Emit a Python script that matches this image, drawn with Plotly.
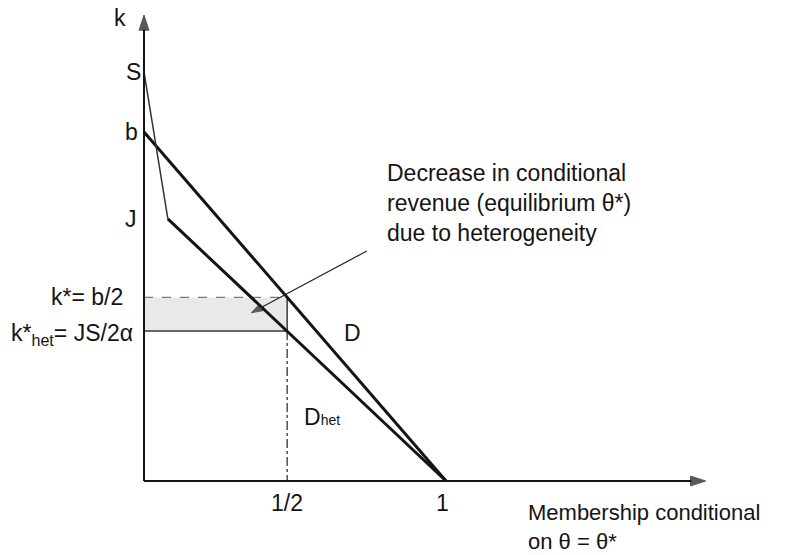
import plotly.graph_objects as go

# membership (x, 1 = full) and k (y, b = 1)
theta_d = [0.0, 1.0]
k_d = [1.0, 0.0]

theta_s = [0.0, 0.079]          # steep thin part from S down to J
k_s = [1.172, 0.751]
theta_het = [0.079, 1.0]        # D_het from the kink down to 1
k_het = [0.751, 0.0]

theta_star = 0.474
k_star = 0.526
k_het_star = 0.43

x_ticks = [theta_star, 1.0]
x_tick_labels = ["1/2", "1"]

ink = "#141414"
font = "Liberation Sans, Arial, sans-serif"
fs = 23

fig = go.Figure()

# shaded revenue loss
fig.add_trace(go.Scatter(
    x=[0, theta_star, theta_star, 0, 0],
    y=[k_het_star, k_het_star, k_star, k_star, k_het_star],
    mode="lines", fill="toself", fillcolor="#e9e9e9",
    line=dict(width=0), hoverinfo="skip",
))
# rectangle edges
fig.add_trace(go.Scatter(x=[0, theta_star], y=[k_star, k_star], mode="lines",
                         line=dict(color="#7a7a7a", width=1.3, dash="dash")))
fig.add_trace(go.Scatter(x=[0, theta_star, theta_star], y=[k_het_star, k_het_star, k_star],
                         mode="lines", line=dict(color="#3a3a3a", width=1.5)))
# dash-dot drop to 1/2
fig.add_trace(go.Scatter(x=[theta_star, theta_star], y=[k_het_star, 0], mode="lines",
                         line=dict(color="#222", width=1.2, dash="dashdot")))

# demand curves
fig.add_trace(go.Scatter(x=theta_d, y=k_d, mode="lines", line=dict(color=ink, width=3)))
fig.add_trace(go.Scatter(x=theta_s, y=k_s, mode="lines", line=dict(color="#333", width=1.5)))
fig.add_trace(go.Scatter(x=theta_het, y=k_het, mode="lines", line=dict(color=ink, width=3)))


# axes / callout with arrow heads
def arrow(xs, ys, width, size, color):
    fig.add_trace(go.Scatter(
        x=xs, y=ys, mode="lines+markers",
        line=dict(color=color, width=width),
        marker=dict(symbol="arrow", size=[0, size], angleref="previous",
                    color=color, line=dict(color=color, width=1)),
    ))

arrow([0, 0], [0, 1.335], 2, 16, ink)
arrow([0, 1.86], [0, 0], 2, 16, ink)
arrow([0.738, 0.355], [0.659, 0.482], 1.2, 12, "#222")


def label(x, y, text, xanchor="center", size=fs, **kw):
    fig.add_annotation(x=x, y=y, text=text, showarrow=False, xanchor=xanchor,
                       yanchor="middle", font=dict(family=font, size=size, color=ink), **kw)

label(-0.08, 1.327, "k")
label(-0.036, k_s[0], "S")
label(-0.043, k_d[0], "b")
label(-0.043, k_s[1], "J")
label(-0.063, k_star, "k*= b/2", xanchor="right")
label(-0.03, k_het_star - 0.01, "k*<sub>het</sub>= JS/2α", xanchor="right")
label(0.689, 0.424, "D")
label(0.589, 0.183, "D<span style='font-size:14px'>het</span>")

for tx, tl in zip(x_ticks, x_tick_labels):
    label(tx, -0.063, tl, xshift=-4 if tl == "1" else 0)

fig.add_annotation(x=1.268, y=-0.132, text="Membership conditional<br>on θ = θ*",
                   showarrow=False, xanchor="left", yanchor="middle", align="left",
                   borderpad=0, font=dict(family=font, size=22, color=ink))

# callout text
fig.add_annotation(x=0.798, y=0.797, text="Decrease in conditional<br>revenue (equilibrium θ*)<br>due to heterogeneity",
                   showarrow=False, xanchor="left", yanchor="middle", align="left",
                   font=dict(family=font, size=fs, color=ink))

fig.update_layout(
    width=790, height=555,
    margin=dict(l=0, r=0, t=0, b=0),
    xaxis=dict(range=[-0.4768, 2.139], visible=False, fixedrange=True),
    yaxis=dict(range=[-0.212, 1.378], visible=False, fixedrange=True),
    plot_bgcolor="white", paper_bgcolor="white",
    showlegend=False,
)

fig.write_html("out.html", config={"displayModeBar": False},
               post_script="document.body.style.margin='0';document.body.style.overflow='hidden';")
